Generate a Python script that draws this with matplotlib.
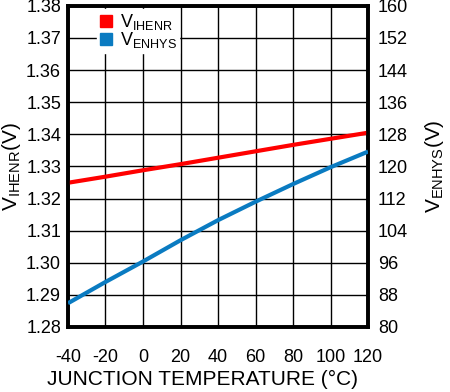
import matplotlib
matplotlib.use('Agg')
import matplotlib.pyplot as plt
from matplotlib.lines import Line2D

# Daten
temp = [-40, -20, 0, 20, 40, 60, 80, 100, 120]
v_ihenr = [1.3249, 1.3268, 1.3288, 1.3307, 1.3327, 1.3347, 1.3367, 1.3386, 1.3405]
v_enhys = [85.9, 91.2, 96.3, 101.6, 106.6, 111.2, 115.6, 119.8, 123.7]

x_ticks = [-40, -20, 0, 20, 40, 60, 80, 100, 120]
left_ticks = [1.28, 1.29, 1.30, 1.31, 1.32, 1.33, 1.34, 1.35, 1.36, 1.37, 1.38]
right_ticks = [80, 88, 96, 104, 112, 120, 128, 136, 144, 152, 160]

red = '#ff0000'
blue = '#0a7bc1'

plt.rcParams['font.family'] = ['Liberation Sans', 'DejaVu Sans']
plt.rcParams['mathtext.fontset'] = 'custom'
plt.rcParams['mathtext.rm'] = 'Liberation Sans'
plt.rcParams['axes.unicode_minus'] = False

fig = plt.figure(figsize=(4.5, 3.92), dpi=100)
ax = fig.add_axes([0.151, 0.166, 0.667, 0.819])
ax2 = ax.twinx()

ax.plot(temp, v_ihenr, color=red, lw=3, solid_capstyle='butt', zorder=3)
ax2.plot(temp, v_enhys, color=blue, lw=3, solid_capstyle='butt', zorder=3)

ax.set_xlim(-40, 120)
ax.set_ylim(1.28, 1.38)
ax2.set_ylim(80, 160)
ax.set_xticks(x_ticks)
ax.set_yticks(left_ticks)
ax.set_yticklabels(['%.2f' % v for v in left_ticks])
ax2.set_yticks(right_ticks)

ax.grid(True, color='black', lw=1)
ax.tick_params(axis='x', length=0, labelsize=13, pad=16)
ax.tick_params(axis='y', length=0, labelsize=13, pad=5)
ax2.tick_params(axis='y', length=0, labelsize=13, pad=7)
for a in (ax, ax2):
    for s in a.spines.values():
        s.set_linewidth(2.6)

ax.set_xlabel('JUNCTION TEMPERATURE (°C)', fontsize=15, labelpad=4)
ax.xaxis.set_label_coords(0.447, -0.135)
ax.set_ylabel(r'V$_{\mathregular{IHENR}}$(V)', fontsize=15, labelpad=2)
ax2.set_ylabel(r'V$_{\mathregular{ENHYS}}$(V)', fontsize=15, labelpad=11)

handles = [Line2D([], [], ls='none', marker='s', color=red, markersize=9),
           Line2D([], [], ls='none', marker='s', color=blue, markersize=9)]
leg = ax2.legend(handles, [r'V$_{\mathregular{IHENR}}$', r'V$_{\mathregular{ENHYS}}$'],
                 loc='upper left', bbox_to_anchor=(0.085, 1.0), frameon=True,
                 fancybox=False, edgecolor='white', framealpha=1,
                 fontsize=13, handlelength=0.7, handletextpad=0.4,
                 borderpad=0.15, labelspacing=-0.1, borderaxespad=0.2)

fig.savefig('out.png', dpi=100)
